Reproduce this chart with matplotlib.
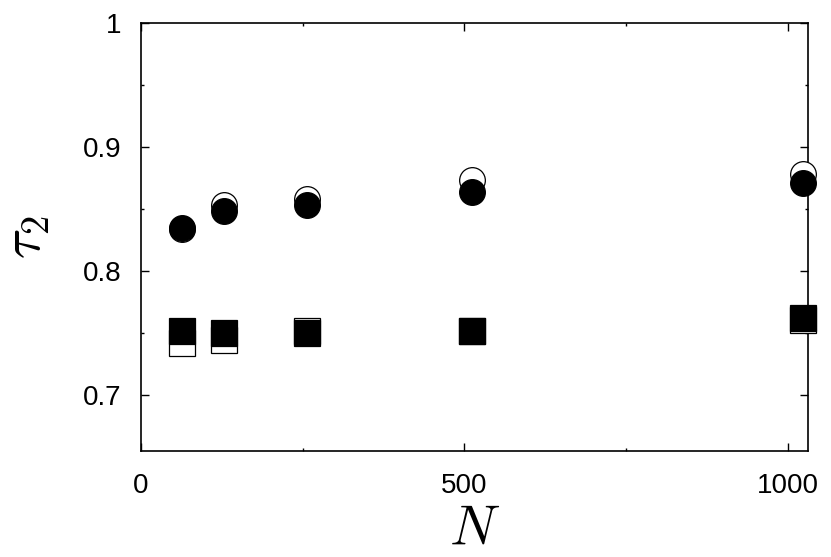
import matplotlib
matplotlib.use('Agg')
import matplotlib.pyplot as plt
from matplotlib.ticker import MultipleLocator

plt.rcParams['font.family'] = ['Liberation Sans', 'DejaVu Sans']
plt.rcParams['mathtext.fontset'] = 'cm'

# system sizes and tau_2 values
N = [64, 128, 256, 512, 1024]
circ_open = [0.834, 0.8535, 0.8584, 0.8734, 0.878]
circ_fill = [0.835, 0.848, 0.853, 0.864, 0.8705]
sq_open = [0.742, 0.7448, 0.7518, 0.752, 0.7607]
sq_fill = [0.7515, 0.750, 0.750, 0.752, 0.762]

yticks = [0.7, 0.8, 0.9, 1.0]
ylabels = ['0.7', '0.8', '0.9', '1']
xticks = [0, 500, 1000]

fig = plt.figure(figsize=(8.31, 5.57), dpi=100)
ax = fig.add_axes([0.1697, 0.1903, 0.9723 - 0.1697, 0.9592 - 0.1903])

ms = 18.5
ax.plot(N, circ_open, 'o', ms=ms, mfc='white', mec='black', mew=0.9, clip_on=False, zorder=3)
ax.plot(N, circ_fill, 'o', ms=ms, mfc='black', mec='black', mew=0.9, clip_on=False, zorder=4)
ax.plot(N, sq_open, 's', ms=ms, mfc='white', mec='black', mew=0.9, clip_on=False, zorder=3)
ax.plot(N, sq_fill, 's', ms=ms, mfc='black', mec='black', mew=0.9, clip_on=False, zorder=4)

ax.set_xlim(0, 1031)
ax.set_ylim(0.655, 1.0)
ax.set_xticks(xticks)
ax.xaxis.set_minor_locator(MultipleLocator(250))
ax.set_yticks(yticks)
ax.set_yticklabels(ylabels)
ax.yaxis.set_minor_locator(MultipleLocator(0.05))

ax.tick_params(which='both', direction='in', top=True, right=True, labelsize=20, width=1)
ax.tick_params(which='major', length=5.5)
ax.tick_params(axis='x', which='major', pad=16)
ax.tick_params(axis='y', which='major', pad=14)
ax.tick_params(which='minor', length=2.5)
for s in ax.spines.values():
    s.set_linewidth(1.2)

ax.set_xlabel(r'$N$', fontsize=40, labelpad=4)
ax.set_ylabel(r'$\tau_2$', fontsize=40, labelpad=22)

fig.savefig('out.png', dpi=100)
